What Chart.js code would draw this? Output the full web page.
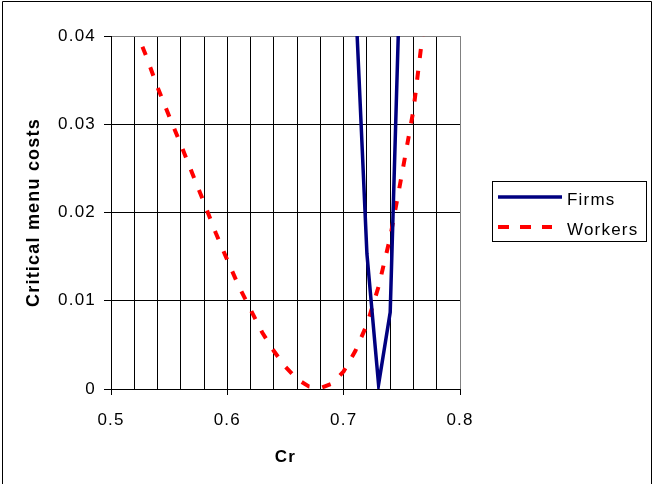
<!DOCTYPE html>
<html>
<head>
<meta charset="utf-8">
<script src="https://cdn.jsdelivr.net/npm/chart.js@4.4.1/dist/chart.umd.min.js"></script>
<style>
  body { margin: 0; background: #fff; }
  #wrap { width: 654px; height: 484px; }
</style>
</head>
<body>
<div id="wrap"><canvas id="menuChart" width="654" height="484"></canvas></div>
<script>
// data
var workersCr = [0.52, 0.53, 0.54, 0.55, 0.56, 0.57, 0.58, 0.59, 0.60, 0.61, 0.62, 0.63, 0.64,
                 0.65, 0.66, 0.67, 0.68, 0.69, 0.70, 0.71, 0.72, 0.73, 0.74, 0.75, 0.76, 0.77];
var workersCost = [0.0411, 0.0378, 0.0342, 0.0309, 0.0277, 0.0244, 0.0211, 0.0177, 0.0146, 0.0116,
                   0.0090, 0.0064, 0.0043, 0.0025, 0.0011, 0.0003, 0.0001, 0.0006, 0.0020, 0.0043,
                   0.0073, 0.0116, 0.0172, 0.0243, 0.0316, 0.0425];
var firmsCr = [0.71, 0.72, 0.73, 0.74, 0.75];
var firmsCost = [0.0447, 0.0153, 0.0005, 0.0087, 0.0540];
var seriesNames = ['Firms', 'Workers'];
var xTickLabels = ['0.5', '0.6', '0.7', '0.8'];
var yTickLabels = ['0', '0.01', '0.02', '0.03', '0.04'];

function pairs(xs, ys) {
  return xs.map(function (x, i) { return { x: x, y: ys[i] }; });
}

Chart.defaults.font.family = '"Liberation Sans", Arial, sans-serif';
Chart.defaults.font.size = 17;
Chart.defaults.color = '#000';

// Excel text in the picture is a bit wider than plain Arial
var spacing = {
  id: 'spacing',
  beforeLayout: function (chart) { chart.ctx.letterSpacing = '1.2px'; },
  beforeDraw: function (chart) { chart.ctx.letterSpacing = '1.2px'; }
};

// legend box on the right and the outer frame
var frame = {
  id: 'frame',
  afterDraw: function (chart) {
    var ctx = chart.ctx;
    ctx.save();
    ctx.strokeStyle = '#000';
    ctx.lineWidth = 1;
    ctx.beginPath();
    ctx.moveTo(2.5, 484);
    ctx.lineTo(2.5, 1.5);
    ctx.lineTo(651.5, 1.5);
    ctx.lineTo(651.5, 484);
    ctx.stroke();

    ctx.strokeRect(492.5, 181.5, 154, 60);
    chart.data.datasets.forEach(function (ds, i) {
      var ly = 197 + i * 30;
      ctx.beginPath();
      ctx.strokeStyle = ds.borderColor;
      ctx.lineWidth = ds.borderWidth;
      ctx.setLineDash(ds.borderDash ? [11, 11] : []);
      ctx.moveTo(498, ly);
      ctx.lineTo(ds.borderDash ? 552 : 562, ly);
      ctx.stroke();
      ctx.setLineDash([]);
      ctx.fillStyle = '#000';
      ctx.font = '17px "Liberation Sans", Arial, sans-serif';
      ctx.textBaseline = 'middle';
      ctx.textAlign = 'left';
      ctx.fillText(ds.label, 567, ly + 3);
    });
    ctx.restore();
  }
};

var ctx = document.getElementById('menuChart').getContext('2d');
var chart = new Chart(ctx, {
  type: 'line',
  data: {
    datasets: [{
      label: seriesNames[0],
      data: pairs(firmsCr, firmsCost),
      borderColor: '#000080',
      borderWidth: 3.5,
      clip: 0
    }, {
      label: seriesNames[1],
      data: pairs(workersCr, workersCost),
      borderColor: '#ff0000',
      borderWidth: 4,
      borderDash: [9, 13],
      clip: 0
    }]
  },
  options: {
    responsive: false,
    animation: false,
    layout: { padding: { top: 36, right: 194, left: 0, bottom: 0 } },
    elements: { point: { radius: 0 }, line: { tension: 0, borderCapStyle: 'butt' } },
    plugins: { legend: { display: false }, tooltip: { enabled: false } },
    scales: {
      x: {
        type: 'linear',
        min: 0.5,
        max: 0.8,
        ticks: {
          stepSize: 0.02,
          autoSkip: false,
          maxRotation: 0,
          padding: 15,
          callback: function (v, i) { return i % 5 === 0 ? xTickLabels[i / 5] : ''; }
        },
        grid: {
          color: function (c) { return c.index === 15 ? '#808080' : '#000'; },
          tickColor: function (c) { return c.index % 5 === 0 ? '#000' : 'rgba(0,0,0,0)'; },
          tickLength: 6
        },
        border: { color: '#000' },
        title: { display: true, text: 'Cr', font: { weight: 'bold' }, padding: { top: 16, bottom: 16 } },
        afterFit: function (s) { s.height = 95; }
      },
      y: {
        min: 0,
        max: 0.04,
        ticks: {
          stepSize: 0.01,
          padding: 8,
          callback: function (v, i) { return yTickLabels[i]; }
        },
        grid: {
          color: function (c) { return c.index === 4 ? '#808080' : '#000'; },
          tickColor: '#000',
          tickLength: 7
        },
        border: { color: '#000' },
        title: { display: true, text: 'Critical menu costs', font: { weight: 'bold', size: 18 }, padding: { top: 23, bottom: 23 } },
        afterFit: function (s) { s.width = 111; }
      }
    }
  },
  plugins: [spacing, frame]
});
</script>
</body>
</html>
